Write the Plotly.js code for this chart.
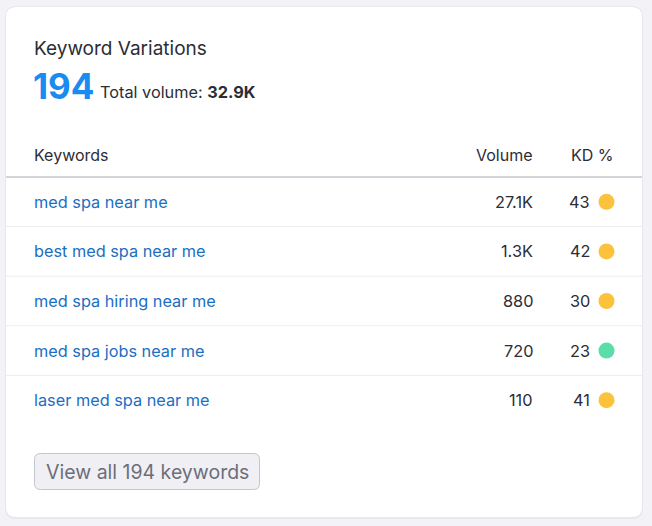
<!DOCTYPE html>
<html>
<head>
<meta charset="utf-8">
<script src="https://cdn.plot.ly/plotly-3.0.1.min.js"></script>
<style>
  html, body { margin: 0; padding: 0; background: #f3f3f7; }
  #kw { width: 652px; height: 526px; }
</style>
</head>
<body>
<div id="kw"></div>
<script>
// keyword variations data
var keywords = ["med spa near me", "best med spa near me", "med spa hiring near me", "med spa jobs near me", "laser med spa near me"];
var volumes = ["27.1K", "1.3K", "880", "720", "110"];
var kdValues = [43, 42, 30, 23, 41];
var totalCount = 194;
var totalVolume = "32.9K";

// layout in pixels (axes map 1:1 to the page)
var W = 652, H = 526;
var rowTop = 177, rowH = 49.6;
var rowY = keywords.map((k, i) => rowTop + rowH * (i + 0.5));
var font = "Inter, 'Noto Sans', sans-serif";

function kdColor(v) {
  if (v < 15) return "#009f81";
  if (v < 30) return "#59ddaa";
  if (v < 50) return "#fdc23c";
  if (v < 70) return "#ff8c43";
  if (v < 85) return "#ff4953";
  return "#d1002f";
}

function roundRect(x0, y0, x1, y1, r) {
  return "M" + (x0 + r) + "," + y0 + " L" + (x1 - r) + "," + y0 +
    " Q" + x1 + "," + y0 + " " + x1 + "," + (y0 + r) +
    " L" + x1 + "," + (y1 - r) +
    " Q" + x1 + "," + y1 + " " + (x1 - r) + "," + y1 +
    " L" + (x0 + r) + "," + y1 +
    " Q" + x0 + "," + y1 + " " + x0 + "," + (y1 - r) +
    " L" + x0 + "," + (y0 + r) +
    " Q" + x0 + "," + y0 + " " + (x0 + r) + "," + y0 + " Z";
}

var shapes = [
  // card shadow + card
  {type: "path", path: roundRect(5, 6, 643, 519, 11), fillcolor: "#e7e7ee", line: {width: 0}, layer: "below"},
  {type: "path", path: roundRect(6, 7, 642, 517, 10), fillcolor: "#ffffff", line: {width: 0}, layer: "below"},
  // header rule
  {type: "line", x0: 6, x1: 642, y0: rowTop, y1: rowTop, line: {color: "#c5c7cf", width: 1.6}},
  // button
  {type: "path", path: roundRect(34.5, 453.5, 259.5, 489.5, 6), fillcolor: "#f0f0f4", line: {color: "#c4c6ce", width: 1}}
];
// row separators
for (var i = 1; i < keywords.length; i++) {
  var yy = rowTop + rowH * i;
  shapes.push({type: "line", x0: 6, x1: 642, y0: yy, y1: yy, line: {color: "#ebedf1", width: 1}});
}

var annotations = [
  {x: 34, y: 48, text: "Keyword Variations", font: {size: 19, color: "#2b2d35"}, xanchor: "left"},
  {x: 33, y: 86, text: "<b>" + totalCount + "</b>", font: {size: 35, color: "#1a8cf0"}, xanchor: "left"},
  {x: 100, y: 92, text: "Total volume: <b>" + totalVolume + "</b>", font: {size: 16.3, color: "#2b2d35"}, xanchor: "left"},
  {x: 34, y: 155, text: "Keywords", font: {size: 16, color: "#2b2d35"}, xanchor: "left"},
  {x: 533, y: 155, text: "Volume", font: {size: 16, color: "#2b2d35"}, xanchor: "right"},
  {x: 614, y: 155, text: "KD %", font: {size: 16, color: "#2b2d35"}, xanchor: "right"},
  {x: 147, y: 471.5, text: "View all " + totalCount + " keywords", font: {size: 19.5, color: "#6c6e79"}, xanchor: "center"}
];
keywords.forEach((k, i) => {
  annotations.push({x: 34, y: rowY[i], text: k, font: {size: 16.3, color: "#1b6ec2"}, xanchor: "left"});
  annotations.push({x: 533, y: rowY[i], text: volumes[i], font: {size: 16.3, color: "#2b2d35"}, xanchor: "right"});
  annotations.push({x: 590, y: rowY[i], text: String(kdValues[i]), font: {size: 16.3, color: "#2b2d35"}, xanchor: "right"});
});
annotations.forEach(a => {
  a.xref = "x"; a.yref = "y"; a.showarrow = false; a.yanchor = "middle";
  a.borderpad = 0; a.borderwidth = 0;
  a.font.family = font;
});

var dots = {
  x: kdValues.map(() => 606.5),
  y: rowY,
  mode: "markers",
  type: "scatter",
  marker: {size: 16, color: kdValues.map(kdColor), line: {width: 0}},
  hoverinfo: "skip"
};

var layout = {
  width: W, height: H,
  margin: {l: 0, r: 0, t: 0, b: 0},
  paper_bgcolor: "#f3f3f7",
  plot_bgcolor: "rgba(0,0,0,0)",
  showlegend: false,
  xaxis: {range: [0, W], visible: false, fixedrange: true},
  yaxis: {range: [H, 0], visible: false, fixedrange: true},
  shapes: shapes,
  annotations: annotations,
  font: {family: font}
};

Plotly.newPlot("kw", [dots], layout, {displayModeBar: false, staticPlot: true});
</script>
</body>
</html>
